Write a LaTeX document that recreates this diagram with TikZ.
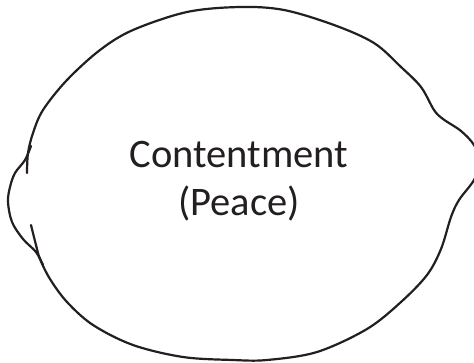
\documentclass[tikz,border=0pt]{standalone}
\usepackage{fontspec}
\setmainfont{Carlito}
\definecolor{ink}{HTML}{231F20}
\begin{document}
\begin{tikzpicture}[x=1pt,y=-1pt,
  outline/.style={draw=ink,line width=2.2pt,line cap=round,line join=round},
  label/.style={font=\fontsize{40.5}{48}\selectfont,text=ink,align=center,inner sep=0pt}]
\useasboundingbox (0,0) rectangle (474,362);
\clip (0,0) rectangle (474,362);
% lemon body with the right tip
\draw[outline] plot[smooth,tension=0.55] coordinates {(27,173) (28,153) (33,133) (43,110) (67,80) (100,50) (133,30) (187,12) (240,7) (284,10) (334,25) (374,43) (401,67) (421,87) (434,110) (443,119) (461,131) (474,145) (480,162) (474,180) (459,200) (451,217) (441,249) (427,275) (401,302) (367,329) (317,352) (267,360) (233,360) (183,357) (133,345) (93,325) (67,302) (50,279) (40,259) (36,245) (31,225)};
% left nub
\draw[outline] plot[smooth,tension=0.55] coordinates {(31,146) (25,160) (15,173) (10,187) (8,202) (12,222) (23,239) (36,252) (43,265)};
\node[label,anchor=base] (txt) at (239,215) {Contentment\\(Peace)};
\end{tikzpicture}
\end{document}
